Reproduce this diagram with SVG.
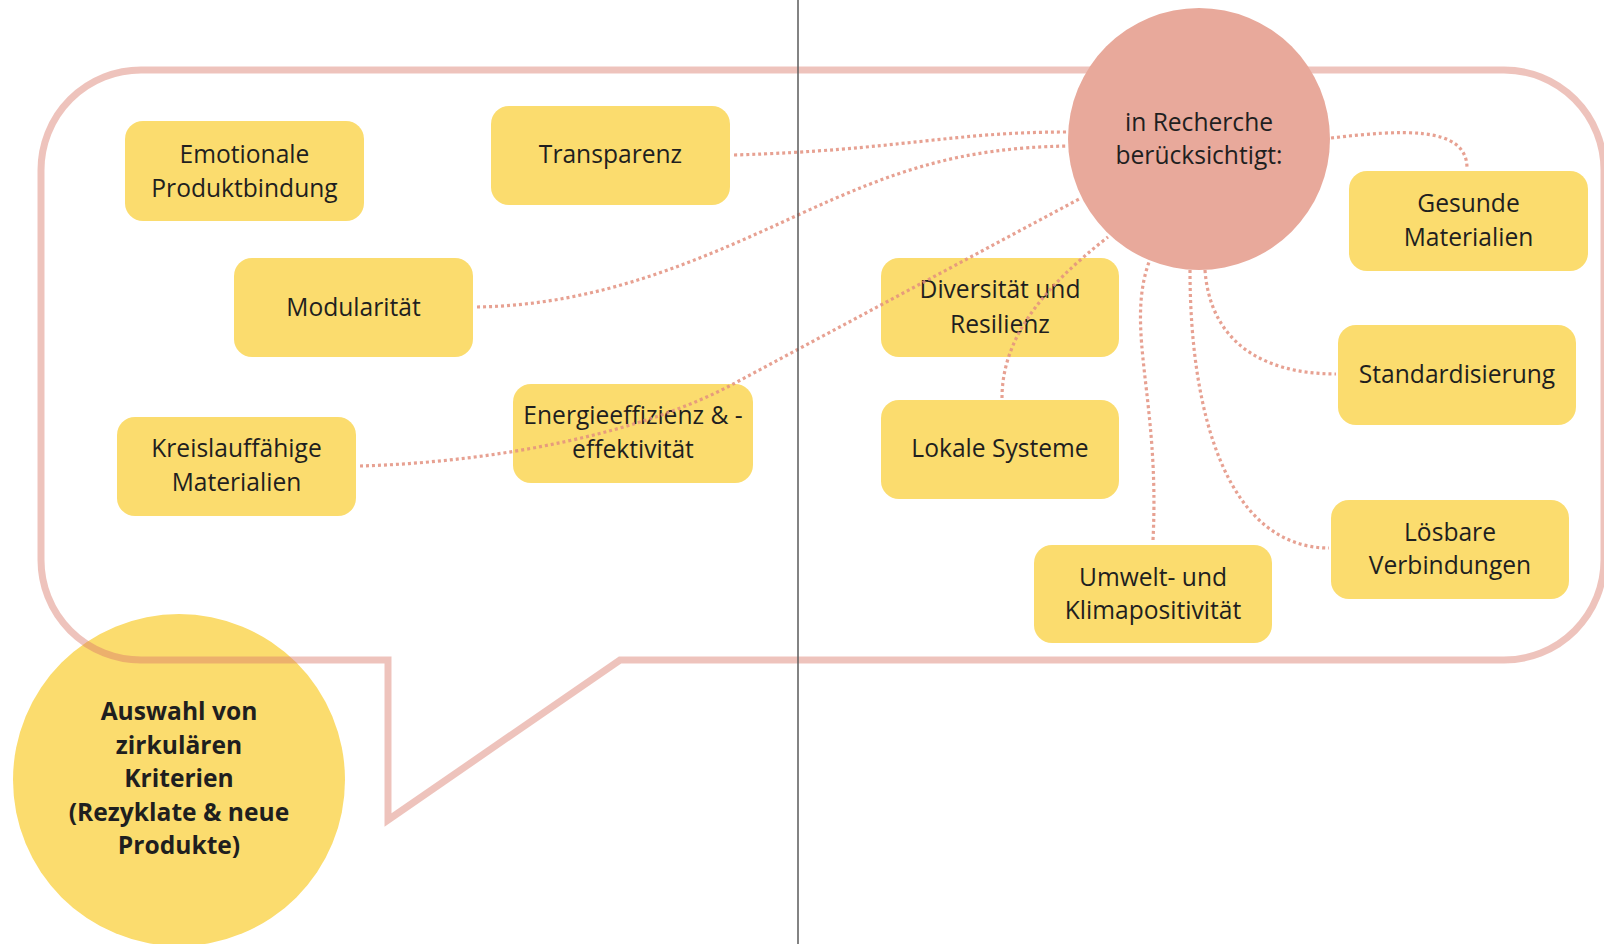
<svg xmlns="http://www.w3.org/2000/svg" width="1604" height="944" viewBox="0 0 1604 944">
<style>
.node rect{fill:#FBDC6E}
.t{font-family:"Open Sans","Liberation Sans",sans-serif;font-size:24.6px;fill:#1f1f1f;text-anchor:middle}
.b{font-family:"Open Sans","Liberation Sans",sans-serif;font-size:24.6px;font-weight:bold;fill:#1f1f1f;text-anchor:middle}
.c{fill:none;stroke:#E3907F;stroke-opacity:0.85;stroke-width:3.2;stroke-dasharray:3 3}
</style>
<rect width="1604" height="944" fill="#ffffff"/>
<g id="start">
<circle cx="179" cy="780" r="166" fill="#FBDC6E"/>
</g>
<g id="bubble">
<path d="M141,70 H1504 A100,100 0 0 1 1604,170 V560 A100,100 0 0 1 1504,660 H620 L388,820 V660 H141 A100,100 0 0 1 41,560 V170 A100,100 0 0 1 141,70 Z" fill="none" stroke="#D9796A" stroke-opacity="0.45" stroke-width="7"/>
</g>
<g id="start-label">
<text class="b" x="179" y="720">Auswahl von</text>
<text class="b" x="179" y="754">zirkulären</text>
<text class="b" x="179" y="787">Kriterien</text>
<text class="b" x="179" y="821">(Rezyklate &amp; neue</text>
<text class="b" x="179" y="854">Produkte)</text>
</g>
<g id="n-emotionale" class="node"><rect x="125" y="121" width="239" height="100" rx="18"/><text class="t" x="244.5" y="163">Emotionale</text><text class="t" x="244.5" y="197">Produktbindung</text></g>
<g id="n-transparenz" class="node"><rect x="491" y="106" width="239" height="99" rx="18"/><text class="t" x="610.5" y="163">Transparenz</text></g>
<g id="n-modularitaet" class="node"><rect x="234" y="258" width="239" height="99" rx="18"/><text class="t" x="353.5" y="316">Modularität</text></g>
<g id="n-kreislauf" class="node"><rect x="117" y="417" width="239" height="99" rx="18"/><text class="t" x="236.5" y="457">Kreislauffähige</text><text class="t" x="236.5" y="491">Materialien</text></g>
<g id="n-energie" class="node"><rect x="513" y="384" width="240" height="99" rx="18"/><text class="t" x="633" y="424">Energieeffizienz &amp; -</text><text class="t" x="633" y="458">effektivität</text></g>
<g id="n-diversitaet" class="node"><rect x="881" y="258" width="238" height="99" rx="18"/><text class="t" x="1000" y="298">Diversität und</text><text class="t" x="1000" y="333">Resilienz</text></g>
<g id="n-lokal" class="node"><rect x="881" y="400" width="238" height="99" rx="18"/><text class="t" x="1000" y="457">Lokale Systeme</text></g>
<g id="n-gesund" class="node"><rect x="1349" y="171" width="239" height="100" rx="18"/><text class="t" x="1468.5" y="212">Gesunde</text><text class="t" x="1468.5" y="246">Materialien</text></g>
<g id="n-standard" class="node"><rect x="1338" y="325" width="238" height="100" rx="18"/><text class="t" x="1457" y="383">Standardisierung</text></g>
<g id="n-loesbar" class="node"><rect x="1331" y="500" width="238" height="99" rx="18"/><text class="t" x="1450" y="541">Lösbare</text><text class="t" x="1450" y="574">Verbindungen</text></g>
<g id="n-umwelt" class="node"><rect x="1034" y="545" width="238" height="98" rx="18"/><text class="t" x="1153" y="586">Umwelt- und</text><text class="t" x="1153" y="619">Klimapositivität</text></g>
<g id="connectors">
<path class="c" d="M734,155 C900,150 950,132 1067,132"/>
<path class="c" d="M477,307 C600,305 700,260 798,215 S960,148 1067,146"/>
<path class="c" d="M360,466 C500,462 645,432 735,383 L1081,198"/>
<path class="c" d="M1002,398 C1002,340 1040,290 1108,237"/>
<path class="c" d="M1153,540 C1160,400 1125,330 1149,262"/>
<path class="c" d="M1190,270 C1190,420 1230,548 1329,548"/>
<path class="c" d="M1205,270 C1210,340 1260,374 1336,374"/>
<path class="c" d="M1331,138 C1400,130 1467,125 1467,168"/>
</g>
<g id="hub">
<circle cx="1199" cy="139" r="131" fill="#E8A99B"/>
<text class="t" x="1199" y="131">in Recherche</text>
<text class="t" x="1199" y="164">berücksichtigt:</text>
</g>
<line x1="798" y1="0" x2="798" y2="944" stroke="#5a5a5a" stroke-width="1.5"/>
</svg>
